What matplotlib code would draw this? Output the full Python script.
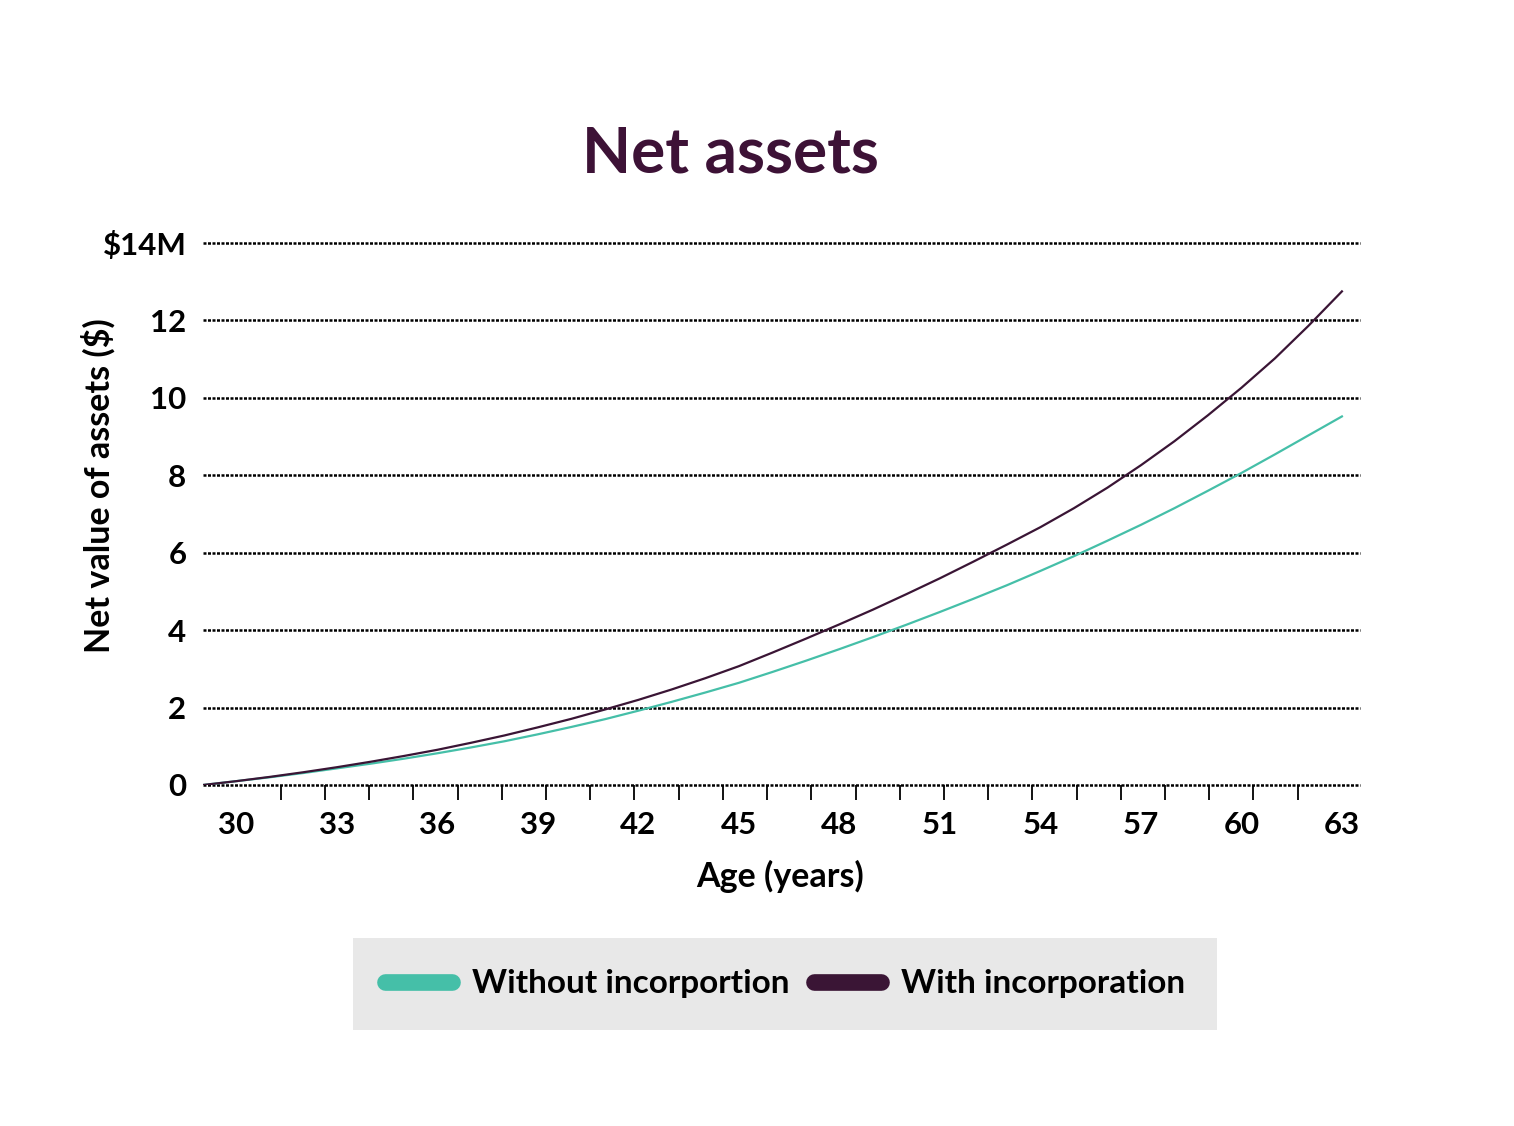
import numpy as np
import matplotlib.pyplot as plt
from matplotlib.lines import Line2D

plt.rcParams['font.family'] = ['Lato', 'DejaVu Sans']

# age in years, net assets in $M
ages = list(range(29, 64))
with_inc = [0.00, 0.10, 0.21, 0.33, 0.46, 0.60, 0.75, 0.91, 1.09, 1.28,
            1.49, 1.71, 1.95, 2.20, 2.47, 2.76, 3.07, 3.42, 3.78, 4.15,
            4.53, 4.93, 5.34, 5.77, 6.21, 6.66, 7.15, 7.68, 8.26, 8.88,
            9.55, 10.26, 11.02, 11.86, 12.75]
without_inc = [0.00, 0.10, 0.20, 0.31, 0.43, 0.55, 0.68, 0.82, 0.97, 1.13,
               1.31, 1.50, 1.70, 1.92, 2.15, 2.39, 2.64, 2.92, 3.21, 3.51,
               3.82, 4.14, 4.47, 4.81, 5.16, 5.53, 5.91, 6.31, 6.72, 7.15,
               7.60, 8.06, 8.54, 9.03, 9.52]

x_labels = [30, 33, 36, 39, 42, 45, 48, 51, 54, 57, 60, 63]
y_ticks = [0, 2, 4, 6, 8, 10, 12, 14]
y_labels = ['0', '2', '4', '6', '8', '10', '12', '$14M']

teal = '#45bfa8'
plum = '#3a1535'
title_col = '#3d1236'

W, H = 1514, 1126
fig = plt.figure(figsize=(W / 100, H / 100), dpi=100)
ax = fig.add_axes([203 / W, 1 - 785 / H, (1360 - 203) / W, (785 - 243) / H])

ax.plot(ages, without_inc, color=teal, lw=1.6, zorder=3)
ax.plot(ages, with_inc, color=plum, lw=1.6, zorder=3)

ax.set_xlim(29, 63.54)
ax.set_ylim(0, 14)

for s in ax.spines.values():
    s.set_visible(False)

ax.set_yticks(y_ticks)
ax.set_yticklabels(y_labels)
ax.tick_params(axis='y', length=0, pad=12, labelsize=22.5)
ax.yaxis.grid(True, color='black', lw=1.8, linestyle=(0, (1.2, 0.6)), clip_on=False)

ax.set_xticks(x_labels)
ax.set_xticklabels([str(v) for v in x_labels])
ax.set_xticks(np.linspace(30, 63, 26), minor=True)
ax.tick_params(axis='x', which='major', length=0, pad=19, labelsize=22.5)
ax.tick_params(axis='x', which='minor', length=11, width=1.3, color='black')

for lab in ax.get_xticklabels() + ax.get_yticklabels():
    lab.set_fontweight('bold')

fig.text(730 / W, 1 - 154 / H, 'Net assets', ha='center', va='center',
         fontsize=46, fontweight='bold', color=title_col)
fig.text(98 / W, 1 - 486 / H, 'Net value of assets ($)', rotation=90,
         ha='center', va='center', fontsize=24.5, fontweight='bold')
fig.text(780 / W, 1 - 876 / H, 'Age (years)', ha='center', va='center',
         fontsize=24.5, fontweight='bold')

handles = [Line2D([], [], color=teal, lw=12, solid_capstyle='round'),
           Line2D([], [], color=plum, lw=12, solid_capstyle='round')]
leg = fig.legend(handles, ['Without incorportion', 'With incorporation'],
                 loc='center', bbox_to_anchor=(785 / W, 1 - 984 / H), ncol=2,
                 frameon=True, fancybox=False, facecolor='#e8e8e8', edgecolor='none',
                 framealpha=1, borderpad=0.95, handlelength=2.0, handletextpad=0.6,
                 columnspacing=0.75, prop={'size': 24, 'weight': 'bold'})

fig.savefig('out.png', dpi=100)
